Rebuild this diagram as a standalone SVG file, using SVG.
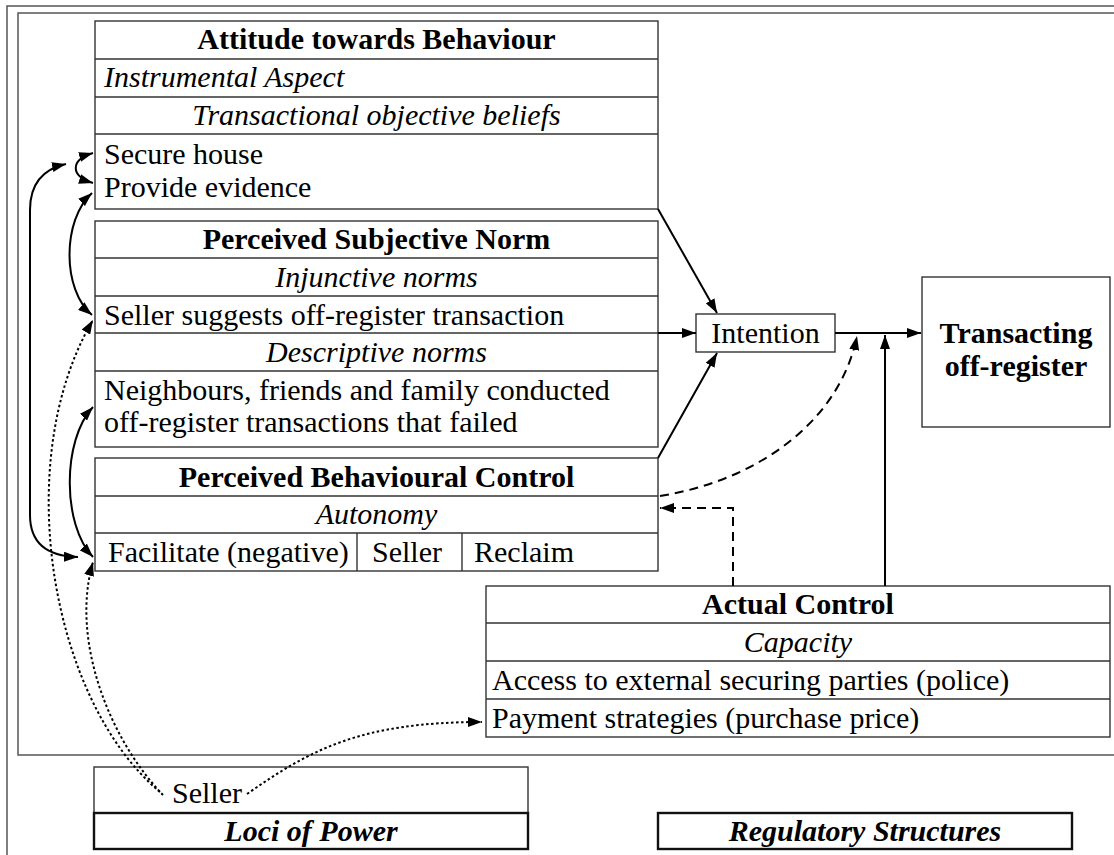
<svg xmlns="http://www.w3.org/2000/svg" width="1114" height="855" viewBox="0 0 1114 855" font-family="Times New Roman, Liberation Serif, serif">
<style>
.box{fill:#fff;stroke:#333;stroke-width:1.4}
.ln{fill:none;stroke:#333;stroke-width:1.4}
.frame{fill:none;stroke:#555;stroke-width:1.5}
.thick{fill:#fff;stroke:#111;stroke-width:2.4}
.c{fill:none;stroke:#000;stroke-width:2}
.dash{stroke-dasharray:9 6}
.dot{stroke-dasharray:2.5 2.5}
</style>
<defs>
<marker id="ah" viewBox="0 0 14 10" refX="14" refY="5" markerWidth="14" markerHeight="10" orient="auto-start-reverse" markerUnits="userSpaceOnUse">
<path d="M0,0 L14,5 L0,10 z" fill="#000" stroke="none"/>
</marker>
</defs>
<rect width="1114" height="855" fill="#fff"/>
<g id="frames">
<path class="frame" d="M7,855 L7,6 L1114,6"/>
<path class="frame" d="M1114,13 L18,13 L18,755 L1114,755"/>
</g>

<g id="attitude">
<rect class="box" x="95" y="21" width="563" height="188"/>
<path class="ln" d="M95,59 H658 M95,97 H658 M95,134 H658"/>
<text x="376.5" y="49" font-family="Times New Roman" font-size="30" font-weight="bold" text-anchor="middle">Attitude towards Behaviour</text>
<text x="104" y="87" font-family="Times New Roman" font-size="30" font-style="italic">Instrumental Aspect</text>
<text x="376.5" y="125" font-family="Times New Roman" font-size="30" font-style="italic" text-anchor="middle">Transactional objective beliefs</text>
<text x="104" y="164" font-family="Times New Roman" font-size="30">Secure house</text>
<text x="104" y="197" font-family="Times New Roman" font-size="30">Provide evidence</text>
</g>

<g id="subjective-norm">
<rect class="box" x="95" y="221" width="563" height="226"/>
<path class="ln" d="M95,258 H658 M95,296 H658 M95,333 H658 M95,371 H658"/>
<text x="376.5" y="249" font-family="Times New Roman" font-size="30" font-weight="bold" text-anchor="middle">Perceived Subjective Norm</text>
<text x="376.5" y="287" font-family="Times New Roman" font-size="30" font-style="italic" text-anchor="middle">Injunctive norms</text>
<text x="104" y="325" font-family="Times New Roman" font-size="30">Seller suggests off-register transaction</text>
<text x="376.5" y="362" font-family="Times New Roman" font-size="30" font-style="italic" text-anchor="middle">Descriptive norms</text>
<text x="104" y="400" font-family="Times New Roman" font-size="30">Neighbours, friends and family conducted</text>
<text x="104" y="432" font-family="Times New Roman" font-size="30">off-register transactions that failed</text>
</g>

<g id="pbc">
<rect class="box" x="95" y="458" width="563" height="113"/>
<path class="ln" d="M95,496 H658 M95,533 H658 M357,533 V571 M462,533 V571"/>
<text x="376.5" y="487" font-family="Times New Roman" font-size="30" font-weight="bold" text-anchor="middle">Perceived Behavioural Control</text>
<text x="376.5" y="524" font-family="Times New Roman" font-size="30" font-style="italic" text-anchor="middle">Autonomy</text>
<text x="108" y="562" font-family="Times New Roman" font-size="30">Facilitate (negative)</text>
<text x="372" y="562" font-family="Times New Roman" font-size="30">Seller</text>
<text x="474" y="562" font-family="Times New Roman" font-size="30">Reclaim</text>
</g>

<g id="intention">
<rect class="box" x="696" y="314" width="139" height="38"/>
<text x="765.5" y="343" font-family="Times New Roman" font-size="30" text-anchor="middle">Intention</text>
</g>

<g id="transacting">
<rect class="box" x="922" y="277" width="188" height="150" stroke="#222" stroke-width="2"/>
<text x="1016" y="343" font-family="Times New Roman" font-size="30" font-weight="bold" text-anchor="middle">Transacting</text>
<text x="1016" y="376" font-family="Times New Roman" font-size="30" font-weight="bold" text-anchor="middle">off-register</text>
</g>

<g id="actual-control">
<rect class="box" x="486" y="586" width="624" height="151"/>
<path class="ln" d="M486,623 H1110 M486,661 H1110 M486,699 H1110"/>
<text x="798" y="614" font-family="Times New Roman" font-size="30" font-weight="bold" text-anchor="middle">Actual Control</text>
<text x="798" y="652" font-family="Times New Roman" font-size="30" font-style="italic" text-anchor="middle">Capacity</text>
<text x="492" y="690" font-family="Times New Roman" font-size="30">Access to external securing parties (police)</text>
<text x="492" y="728" font-family="Times New Roman" font-size="30">Payment strategies (purchase price)</text>
</g>

<g id="loci-of-power">
<rect class="box" x="94" y="767" width="434" height="46"/>
<rect class="thick" x="94" y="813" width="434" height="36"/>
<text x="172" y="803" font-family="Times New Roman" font-size="30">Seller</text>
<text x="311" y="841" font-family="Times New Roman" font-size="30" font-weight="bold" font-style="italic" text-anchor="middle">Loci of Power</text>
</g>

<g id="regulatory-structures">
<rect class="thick" x="658" y="813" width="414" height="36"/>
<text x="865" y="841" font-family="Times New Roman" font-size="30" font-weight="bold" font-style="italic" text-anchor="middle">Regulatory Structures</text>
</g>

<g id="connectors">
<path class="c" d="M658,209 L717,313" marker-end="url(#ah)"/>
<path class="c" d="M658,458 L717,353" marker-end="url(#ah)"/>
<path class="c" d="M658,333 L696,333" marker-end="url(#ah)"/>
<path class="c" d="M835,333 L921,333" marker-end="url(#ah)"/>
<path class="c" d="M885,586 L885,335" marker-end="url(#ah)"/>
<path class="c dash" d="M660,496 C760,480 840,420 857,336" marker-end="url(#ah)"/>
<path class="c dash" d="M733,586 L733,508 L660,508" marker-end="url(#ah)"/>
<path class="c" d="M93,153 C70,160 70,176 93,183" marker-start="url(#ah)" marker-end="url(#ah)"/>
<path class="c" d="M66,164 Q30,172 30,210 L30,515 Q30,556 78,557" marker-start="url(#ah)" marker-end="url(#ah)"/>
<path class="c" d="M92,193 C62,220 62,290 92,315" marker-start="url(#ah)" marker-end="url(#ah)"/>
<path class="c" d="M93,407 C62,440 62,525 93,557" marker-start="url(#ah)" marker-end="url(#ah)"/>
<path class="c dot" d="M160,792 C50,700 10,460 93,320" marker-end="url(#ah)"/>
<path class="c dot" d="M163,795 C110,740 70,640 93,562" marker-end="url(#ah)"/>
<path class="c dot" d="M247,794 C310,750 360,722 482,722" marker-end="url(#ah)"/>
</g>
</svg>
